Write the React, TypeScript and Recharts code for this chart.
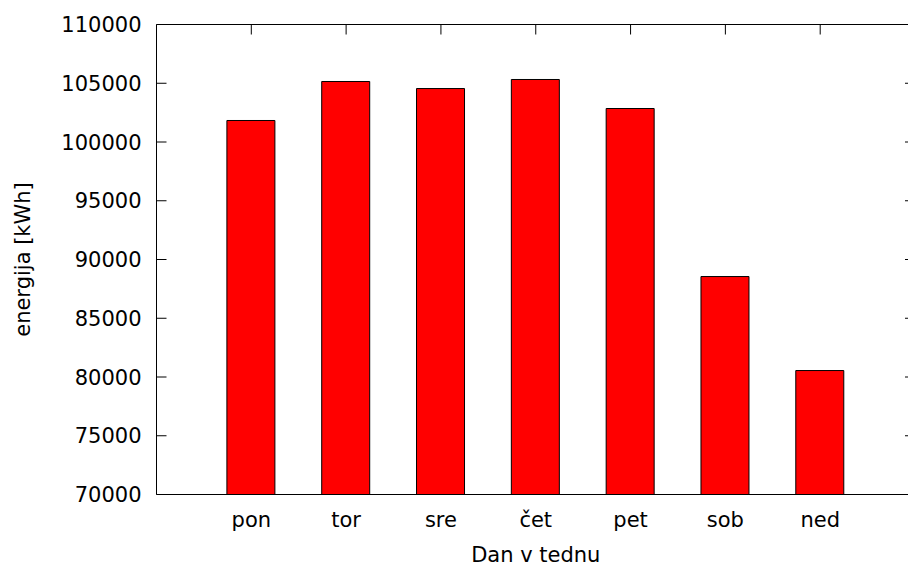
import React from 'react';
import { BarChart, Bar, XAxis, YAxis, Label } from 'recharts';

const days = ['pon', 'tor', 'sre', 'čet', 'pet', 'sob', 'ned'];
const energy = [101830, 105150, 104550, 105320, 102850, 88550, 80550];
const yTicks = [70000, 75000, 80000, 85000, 90000, 95000, 100000, 105000, 110000];

const data = days.map((day, i) => ({ day, energy: energy[i] }));

const FONT = 'DejaVu Sans, sans-serif';
const FONT_SIZE = 21;

const LeftTick = (props: any) => {
  const { x, y, payload } = props;
  return (
    <g>
      <line x1={x + 15} x2={x + 25} y1={y} y2={y} stroke="#000" strokeWidth={1} />
      <text x={x} y={y} dy="0.36em" textAnchor="end" fill="#000" fontFamily={FONT} fontSize={FONT_SIZE}>
        {payload.value}
      </text>
    </g>
  );
};

const RightTick = (props: any) => {
  const { x, y } = props;
  return <line x1={x - 10} x2={x} y1={y} y2={y} stroke="#000" strokeWidth={1} />;
};

const TopTick = (props: any) => {
  const { x, y } = props;
  return <line x1={x} x2={x} y1={y} y2={y + 10} stroke="#000" strokeWidth={1} />;
};

const BottomTick = (props: any) => {
  const { x, y, payload } = props;
  return (
    <text x={x} y={y} dy="0.71em" textAnchor="middle" fill="#000" fontFamily={FONT} fontSize={FONT_SIZE}>
      {payload.value}
    </text>
  );
};

const YTitle = (props: any) => {
  const { x, y, height } = props.viewBox;
  const cx = x + 22;
  const cy = y + height / 2;
  return (
    <text x={cx} y={cy} dy="0.36em" transform={`rotate(-90, ${cx}, ${cy})`} textAnchor="middle" fill="#000" fontFamily={FONT} fontSize={FONT_SIZE}>
      energija [kWh]
    </text>
  );
};

const XTitle = (props: any) => {
  const { x, y, width } = props.viewBox;
  return (
    <text x={x + width / 2} y={y + 67} textAnchor="middle" fill="#000" fontFamily={FONT} fontSize={FONT_SIZE}>
      Dan v tednu
    </text>
  );
};

export default function App() {
  return (
    <div style={{ position: 'absolute', left: 0, top: 0, width: 908, height: 567, overflow: 'hidden', background: '#fff' }}>
      <BarChart
        width={930}
        height={567}
        data={data}
        margin={{ top: 0, right: 0, bottom: 0, left: 0 }}
        barCategoryGap={0}
      >
        <XAxis
          dataKey="day"
          padding={{ left: 47.4, right: 47.4 }}
          axisLine={{ stroke: '#000', strokeWidth: 1 }}
          tickLine={false}
          tickSize={0}
          tickMargin={18}
          tick={<BottomTick />}
          height={72.5}
          interval={0}
        >
          <Label content={<XTitle />} />
        </XAxis>
        <XAxis
          xAxisId="top"
          orientation="top"
          dataKey="day"
          padding={{ left: 47.4, right: 47.4 }}
          axisLine={{ stroke: '#000', strokeWidth: 1 }}
          tickLine={false}
          tickSize={0}
          tickMargin={0}
          tick={<TopTick />}
          height={24.5}
          interval={0}
        />
        <YAxis
          domain={[70000, 110000]}
          ticks={yTicks}
          allowDataOverflow
          width={156.5}
          axisLine={{ stroke: '#000', strokeWidth: 1 }}
          tickLine={false}
          tickSize={0}
          tickMargin={15}
          tick={<LeftTick />}
          interval={0}
        >
          <Label content={<YTitle />} />
        </YAxis>
        <YAxis
          yAxisId="right"
          orientation="right"
          domain={[70000, 110000]}
          ticks={yTicks}
          allowDataOverflow
          width={15}
          axisLine={{ stroke: '#000', strokeWidth: 1 }}
          tickLine={false}
          tickSize={0}
          tickMargin={0}
          tick={<RightTick />}
          interval={0}
        />
        <Bar dataKey="energy" fill="#ff0000" stroke="#000" strokeWidth={1} barSize={48} isAnimationActive={false} />
      </BarChart>
    </div>
  );
}
